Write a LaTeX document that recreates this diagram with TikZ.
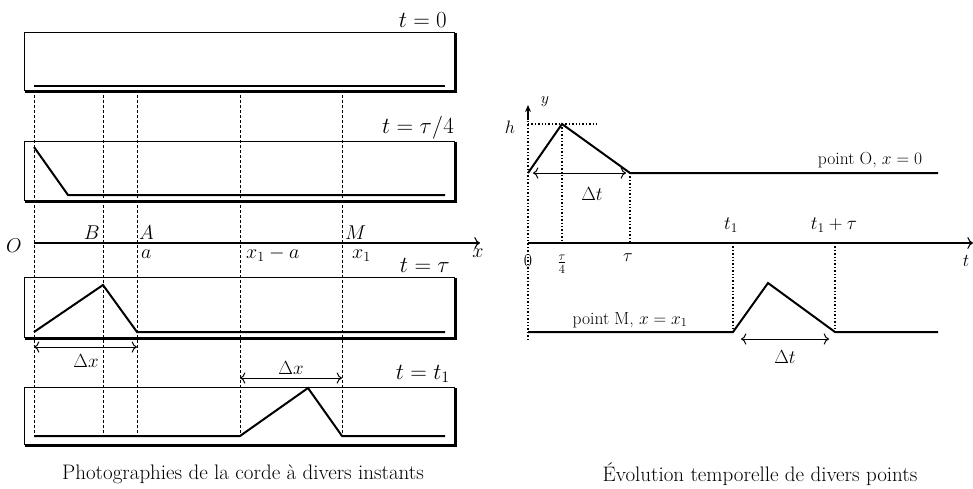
\documentclass[tikz,border=0pt]{standalone}
\usepackage{fix-cm}
\usetikzlibrary{arrows.meta}
\begin{document}
\begin{tikzpicture}[x=1pt,y=-1pt,
  shadowbox/.style={line width=1.3pt},
  panelbox/.style={draw,fill=white,line width=0.8pt},
  rope/.style={line width=2pt,line join=miter},
  guide/.style={densely dashed,line width=0.7pt},
  dotguide/.style={dotted,line width=1.4pt},
  axisline/.style={line width=1.1pt},
  dbl/.style={{To[scale=1.4]}-{To[scale=1.4]},line width=1pt},
  tlab/.style={font=\fontsize{23}{25}\selectfont,anchor=base east,inner sep=0pt},
  lab/.style={font=\fontsize{20}{22}\selectfont,inner sep=0pt},
  dlab/.style={font=\fontsize{19}{21}\selectfont,inner sep=0pt},
  smalllab/.style={font=\fontsize{17.5}{19}\selectfont,inner sep=0pt},
  ticklab/.style={font=\fontsize{18}{20}\selectfont,inner sep=0pt},
  captext/.style={font=\fontsize{21}{23}\selectfont,inner sep=0pt}]
\useasboundingbox (0,0) rectangle (973,488);

% ---------- left panels ----------
\foreach \yt/\yb/\nm in {32/90/p1,141/200/p2,277/337/p3,387/444/p4}{
  \draw[shadowbox] (26,\yt+2) rectangle (456,\yb+2);
  \draw[panelbox] (24,\yt) rectangle (454,\yb);
}
% guide lines
\foreach \xx in {34,103,137,240,342}{
  \draw[guide] (\xx,90) -- (\xx,436);
}
% strings
\coordinate (s1a) at (34,86); \coordinate (s1b) at (445,86);
\draw[rope] (s1a) -- (s1b);
\coordinate (s2a) at (34,147); \coordinate (s2b) at (68,195); \coordinate (s2c) at (445,195);
\draw[rope] (s2a) -- (s2b) -- (s2c);
\coordinate (s3a) at (34,332); \coordinate (s3b) at (103,285); \coordinate (s3c) at (137,332); \coordinate (s3d) at (445,332);
\draw[rope] (s3a) -- (s3b) -- (s3c) -- (s3d);
\coordinate (s4a) at (34,436); \coordinate (s4b) at (240,436); \coordinate (s4c) at (308,388); \coordinate (s4d) at (342,436); \coordinate (s4e) at (445,436);
\draw[rope] (s4a) -- (s4b) -- (s4c) -- (s4d) -- (s4e);

% time labels
\node[tlab] (t0) at (447,27) {$t=0$};
\node[tlab] (t1) at (454,133) {$t=\tau/4$};
\node[tlab] (t2) at (450,272) {$t=\tau$};
\node[tlab] (t3) at (450,379) {$t=t_1$};

% x axis
\coordinate (xo) at (34,243); \coordinate (xe) at (480,243);
\draw[axisline,-{To[scale=1.4]}] (xo) -- (xe);
\node[lab] (O) at (14,246) {$O$};
\node[lab,anchor=base east] (B) at (100,239) {$B$};
\node[lab,anchor=base west] (A) at (139,239) {$A$};
\node[lab,anchor=base west] (M) at (345,239) {$M$};
\node[lab,anchor=base west] (a) at (141,258) {$a$};
\node[lab,anchor=base west] (x1a) at (246,258) {$x_1-a$};
\node[lab,anchor=base west] (x1) at (352,258) {$x_1$};
\node[lab] (xl) at (478,253) {$x$};

% delta x arrows
\coordinate (d1a) at (34,347); \coordinate (d1b) at (137,347);
\draw[dbl] (d1a) -- (d1b);
\node[dlab] (dx1) at (86,361) {$\Delta x$};
\coordinate (d2a) at (240,378); \coordinate (d2b) at (342,378);
\draw[dbl] (d2a) -- (d2b);
\node[dlab] (dx2) at (291,368) {$\Delta x$};

\node[captext] (capL) at (243,474) {Photographies de la corde à divers instants};

% ---------- right panel ----------
\coordinate (yb) at (528,340); \coordinate (yt) at (528,105);
\draw[dotguide] (yb) -- (528,113);
\draw[axisline,-{Stealth[length=7pt,width=6pt]}] (528,120) -- (yt);
\node[font=\fontsize{16}{18}\selectfont,inner sep=0pt] (yl) at (545,102) {$y$};
\node[ticklab] (h) at (510,127) {$h$};

\coordinate (oa) at (528,173); \coordinate (ob) at (562,124); \coordinate (oc) at (630,173); \coordinate (od) at (938,173);
\draw[dotguide] (528,124) -- (598,124);
\draw[dotguide] (ob) -- (562,243);
\draw[dotguide] (oc) -- (630,243);
\draw[rope] (oa) -- (ob) -- (oc) -- (od);
\node[smalllab,anchor=base] (pO) at (870,164) {point O, $x=0$};
\coordinate (e1a) at (533,173); \coordinate (e1b) at (626,173);
\draw[dbl] (e1a) -- (e1b);
\node[dlab] (dt1) at (592,194) {$\Delta t$};

\coordinate (to) at (528,243); \coordinate (te) at (973,243);
\draw[axisline,-{To[scale=1.4]}] (to) -- (te);
\node[ticklab] (tl) at (966,261) {$t$};
\node[ticklab] (z0) at (528,261) {$0$};
\node[ticklab] (tq) at (562,264) {$\frac{\tau}{4}$};
\node[ticklab] (tt) at (628,258) {$\tau$};
\node[dlab] (tt1) at (731,225) {$t_1$};
\node[dlab] (tt2) at (834,225) {$t_1+\tau$};

\coordinate (ma) at (528,332); \coordinate (mb) at (733,332); \coordinate (mc) at (768,283); \coordinate (md) at (835,332); \coordinate (me) at (938,332);
\draw[dotguide] (733,243) -- (mb);
\draw[dotguide] (835,243) -- (md);
\draw[rope] (ma) -- (mb) -- (mc) -- (md) -- (me);
\node[smalllab,anchor=base] (pM) at (630,324) {point M, $x=x_1$};
\coordinate (e2a) at (741,339); \coordinate (e2b) at (829,339);
\draw[dbl] (e2a) -- (e2b);
\node[dlab] (dt2) at (785,357) {$\Delta t$};

\node[captext] (capR) at (760,474) {Évolution temporelle de divers points};
\end{tikzpicture}
\end{document}
